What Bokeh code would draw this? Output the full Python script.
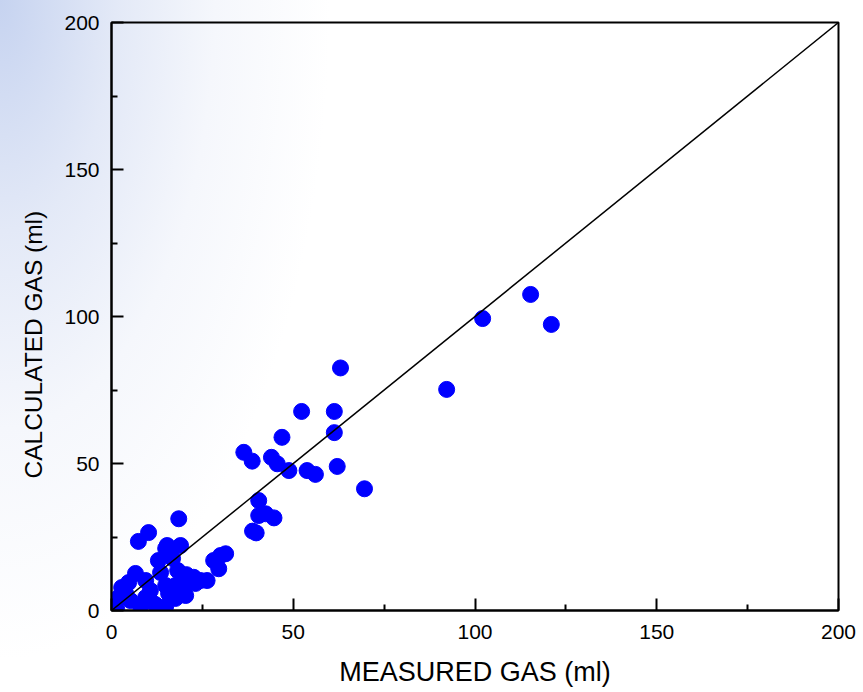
from bokeh.plotting import figure
from bokeh.models import Range1d, FixedTicker, ColumnDataSource, Title
from bokeh.embed import file_html
from bokeh.resources import INLINE

# Data
measured = [115.3, 102.1, 121.0, 92.2, 63.0, 52.3, 61.3, 61.3, 62.1, 69.6,
            46.9, 48.8, 53.8, 56.1, 36.4, 38.7, 44.0, 45.6, 40.5, 40.5,
            42.4, 44.7, 38.8, 39.8, 18.5, 10.2, 7.4, 30.0, 31.4, 28.1,
            29.5, 26.3, 22.6, 15.3, 19.0, 14.9, 12.9, 16.8, 6.6, 13.5,
            18.2, 20.6, 24.5, 2.8, 1.9, 3.9, 0.6, 9.4, 15.7, 12.1,
            14.9, 8.0, 5.2, 10.7, 20.4, 17.6, 1.4, 23.1, 10.7, 17.6,
            20.4, 14.9, 4.7, 9.4]
calculated = [107.5, 99.3, 97.3, 75.2, 82.5, 67.7, 67.7, 60.5, 49.0, 41.4,
              58.9, 47.6, 47.6, 46.3, 53.8, 50.8, 52.1, 49.9, 37.4, 32.3,
              32.9, 31.5, 27.0, 26.4, 31.2, 26.5, 23.5, 18.7, 19.3, 17.0,
              14.2, 10.2, 11.3, 22.1, 22.1, 21.1, 17.0, 17.7, 12.6, 12.9,
              13.6, 12.2, 10.2, 7.8, 4.4, 5.8, 2.0, 4.4, 5.8, 2.0,
              1.4, 1.4, 3.4, 6.8, 8.5, 8.5, 0.7, 9.2, 3.4, 4.1,
              5.1, 8.5, 9.5, 10.2]
identity_x = [0, 200]
identity_y = [0, 200]
major_ticks = [0, 50, 100, 150, 200]
minor_ticks = [25, 75, 125, 175]
x_title = "MEASURED GAS (ml)"
y_title = "CALCULATED GAS (ml)"

FONT = "Liberation Sans"

p = figure(width=863, height=692, output_backend="svg", toolbar_location=None,
           x_range=Range1d(0, 200), y_range=Range1d(0, 200),
           min_border_left=111, min_border_right=25, min_border_top=22,
           min_border_bottom=82)

p.styles = {"background": "radial-gradient(ellipse 330px 660px at 0px 0px, #c6d3f0 0%, #e3e9f7 35%, #f5f7fc 65%, #ffffff 100%)"}
p.border_fill_alpha = 0
p.background_fill_alpha = 0
p.outline_line_color = "black"
p.outline_line_width = 2
p.grid.visible = False

src = ColumnDataSource(data=dict(x=measured, y=calculated))
p.scatter("x", "y", source=src, size=16, fill_color="#0000ff", line_color="#0000ff")
p.line(identity_x, identity_y, line_color="black", line_width=1.5)

for ax in (p.xaxis[0], p.yaxis[0]):
    ax.ticker = FixedTicker(ticks=major_ticks, minor_ticks=minor_ticks)
    ax.major_tick_in = 12
    ax.major_tick_out = 0
    ax.minor_tick_in = 6
    ax.minor_tick_out = 0
    ax.axis_line_width = 2
    ax.major_tick_line_width = 2
    ax.minor_tick_line_width = 2
    ax.major_label_text_font = FONT
    ax.major_label_text_font_size = "21px"
    ax.major_label_text_color = "black"
    ax.axis_label_text_font = FONT
    ax.axis_label_text_font_style = "normal"
    ax.axis_label_text_color = "black"

p.xaxis.axis_label = x_title
p.xaxis.axis_label_text_font_size = "27px"
p.xaxis.major_label_standoff = 14
p.yaxis.major_label_standoff = 12
p.xaxis.axis_label_standoff = 15

# y title as a left-side title, shifted slightly below centre like the reference
ytitle = Title(text=y_title, align="left", offset=132, standoff=30,
               text_font=FONT, text_font_size="24.5px", text_font_style="normal",
               text_color="black")
p.add_layout(ytitle, "left")

open("out.html", "w").write(file_html(p, INLINE))
